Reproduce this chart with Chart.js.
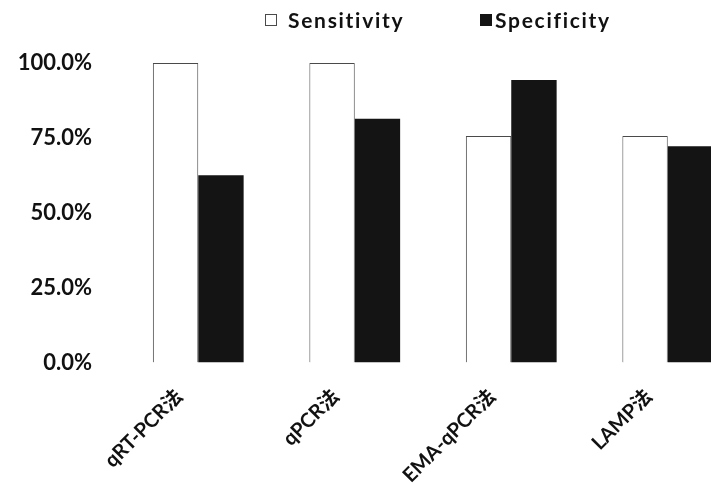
<!DOCTYPE html>
<html>
<head>
<meta charset="utf-8">
<script src="https://cdn.jsdelivr.net/npm/chart.js@4"></script>
<style>
  html, body { margin: 0; padding: 0; background: #fff; overflow: hidden; width: 711px; height: 484px; }
  #wrap { position: relative; width: 746px; height: 484px; }
</style>
</head>
<body>
<div id="wrap"><canvas id="c" width="746" height="484"></canvas></div>
<script>
// Detection methods and their sensitivity / specificity (%)
const methods = ['qRT-PCR法', 'qPCR法', 'EMA-qPCR法', 'LAMP法'];
const sensitivity = [100, 100, 75.6, 75.6];
const specificity = [62.5, 81.4, 94.3, 72.2];
const yTicks = [0, 25, 50, 75, 100];
const seriesNames = ['Sensitivity', 'Specificity'];

const FONT = "Lato, 'Noto Sans CJK SC', sans-serif";
const INK = '#111111';

// One-row legend above the plot: square swatch followed by the series name
const legendRow = {
  id: 'legendRow',
  afterDraw(chart) {
    const ctx = chart.ctx;
    const items = [
      { boxX: 265, textX: 288 },
      { boxX: 480, textX: 495 }
    ];
    ctx.save();
    ctx.font = 'bold 21px ' + FONT;
    ctx.letterSpacing = '1.7px';
    ctx.textBaseline = 'alphabetic';
    ctx.textAlign = 'left';
    chart.data.datasets.forEach((ds, i) => {
      const it = items[i];
      ctx.fillStyle = ds.backgroundColor;
      ctx.fillRect(it.boxX, 14, 12, 12);
      ctx.strokeStyle = ds.borderColor;
      ctx.lineWidth = 1;
      ctx.strokeRect(it.boxX + 0.5, 14.5, 11, 11);
      ctx.fillStyle = INK;
      ctx.fillText(ds.label, it.textX, 28);
    });
    ctx.restore();
  }
};

new Chart(document.getElementById('c'), {
  type: 'bar',
  data: {
    labels: methods,
    datasets: [
      {
        label: seriesNames[0],
        data: sensitivity,
        backgroundColor: '#ffffff',
        borderColor: '#4a4a4a',
        borderWidth: 1
      },
      {
        label: seriesNames[1],
        data: specificity,
        backgroundColor: '#141414',
        borderColor: '#141414',
        borderWidth: 0
      }
    ]
  },
  options: {
    responsive: false,
    animation: false,
    devicePixelRatio: 1,
    layout: { padding: { top: 63, left: 0, right: 0, bottom: 0 } },
    datasets: { bar: { categoryPercentage: 0.58, barPercentage: 1.0 } },
    plugins: {
      legend: { display: false },
      tooltip: { enabled: false }
    },
    scales: {
      x: {
        grid: { display: false, drawTicks: false },
        border: { display: false },
        ticks: {
          color: INK,
          font: { family: FONT, size: 20, weight: 'bold' },
          minRotation: 45,
          maxRotation: 45,
          padding: 22,
          labelOffset: -19,
          autoSkip: false
        },
        afterFit(scale) { scale.height = 121.5; }
      },
      y: {
        min: 0,
        max: 100,
        grid: { display: false, drawTicks: false },
        border: { display: false },
        afterBuildTicks(scale) { scale.ticks = yTicks.map(v => ({ value: v })); },
        ticks: {
          color: INK,
          font: { family: FONT, size: 22, weight: 'bold' },
          padding: 28,
          callback: v => v.toFixed(1) + '%'
        },
        afterFit(scale) { scale.width = 120; }
      }
    }
  },
  plugins: [legendRow]
});
</script>
</body>
</html>
